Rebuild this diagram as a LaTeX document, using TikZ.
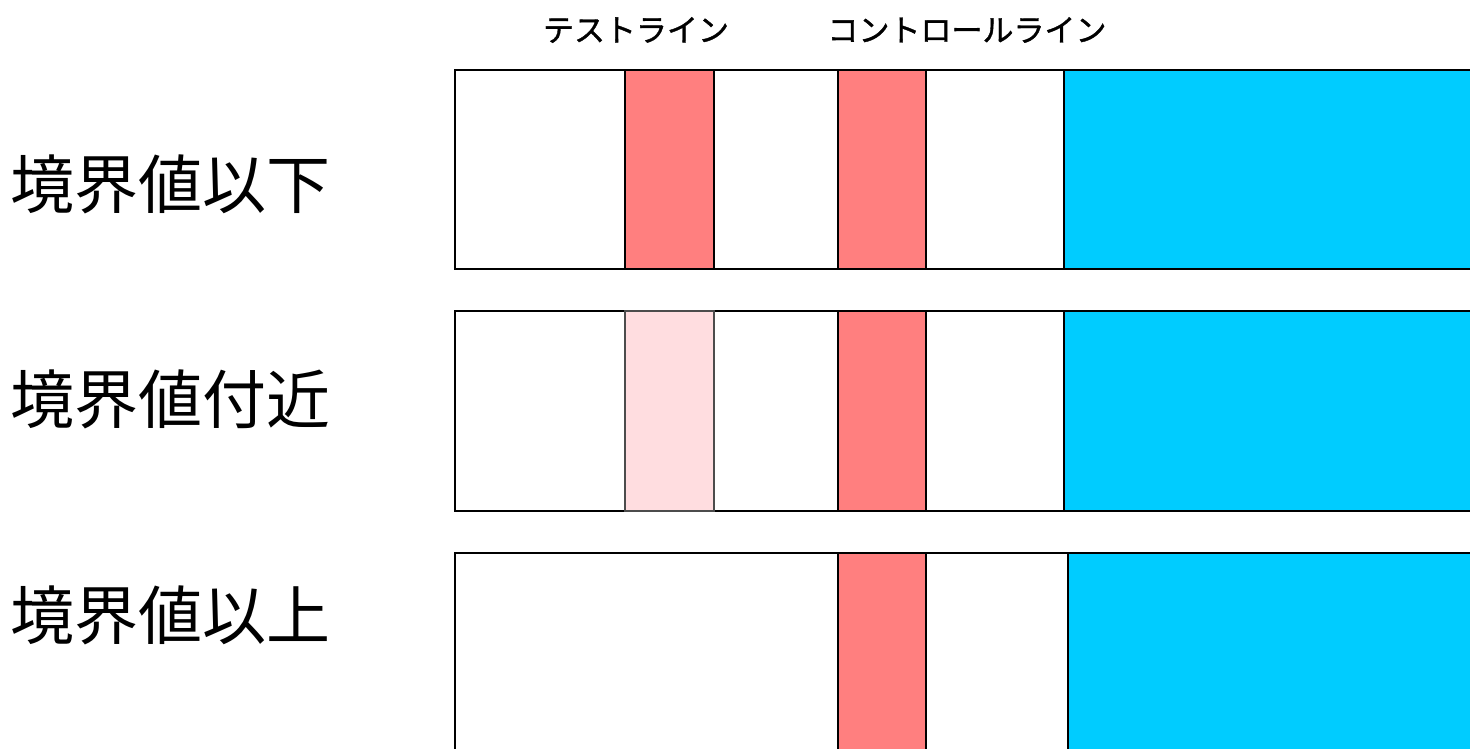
\documentclass[tikz,border=0pt]{standalone}
\usepackage{fontspec}
\newfontfamily\cjk{Noto Sans CJK JP}
\newfontfamily\cjkh[FakeBold=1.2]{Noto Sans CJK JP}
\definecolor{linepink}{HTML}{FF7F7F}
\definecolor{faintpink}{HTML}{FFDDE0}
\definecolor{skyblue}{HTML}{00CCFF}
\tikzset{
  strip/.style={draw=black, line width=1.8pt, fill=white},
  band/.style={draw=black, line width=1.5pt, fill=linepink},
  faintband/.style={draw=black!70, line width=1.2pt, fill=faintpink},
  padzone/.style={draw=black, line width=2pt, fill=skyblue},
  rowlabel/.style={font=\cjk\fontsize{64}{64}\selectfont, inner sep=0pt},
  headlabel/.style={font=\cjkh\fontsize{31}{31}\selectfont, inner sep=0pt}
}
\begin{document}
\begin{tikzpicture}[x=1pt,y=-1pt]
\useasboundingbox (0,0) rectangle (1470,748);
\clip (0,0) rectangle (1470,748);
% header labels
\node[headlabel] (hT) at (636,30) {テストライン};
\node[headlabel] (hC) at (967,30) {コントロールライン};
% row labels
\node[rowlabel] (l1) at (170,184) {境界値以下};
\node[rowlabel] (l2) at (170,399) {境界値付近};
\node[rowlabel] (l3) at (170,615) {境界値以上};
% row 1
\draw[strip] (455,70) rectangle (1480,269);
\draw[band] (625,70) rectangle (714,269);
\draw[band] (838,70) rectangle (926,269);
\draw[padzone] (1064,70) rectangle (1480,269);
% row 2
\draw[strip] (455,311) rectangle (1480,511);
\draw[faintband] (625,311) rectangle (714,511);
\draw[band] (838,311) rectangle (926,511);
\draw[padzone] (1064,311) rectangle (1480,511);
% row 3
\draw[strip] (455,553) rectangle (1480,760);
\draw[band] (838,553) rectangle (926,760);
\draw[padzone] (1068,553) rectangle (1480,760);
\end{tikzpicture}
\end{document}
